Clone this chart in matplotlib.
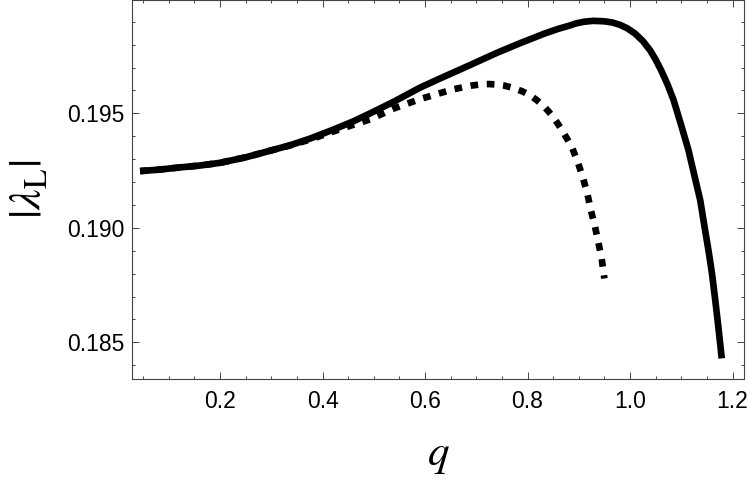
import matplotlib
matplotlib.use("Agg")
import matplotlib.pyplot as plt
from matplotlib.ticker import MultipleLocator, FormatStrFormatter

plt.rcParams['font.family'] = ['Liberation Sans', 'DejaVu Sans']
plt.rcParams['mathtext.fontset'] = 'stix'

# solid curve
q_solid = [0.044, 0.08, 0.122, 0.16, 0.200, 0.25, 0.298, 0.34, 0.376, 0.42,
           0.46, 0.493, 0.54, 0.590, 0.629, 0.688, 0.74, 0.785, 0.835, 0.86,
           0.883, 0.895, 0.91, 0.928, 0.95, 0.965, 0.98, 0.995, 1.01, 1.025,
           1.039, 1.05, 1.062, 1.074, 1.085, 1.10, 1.114, 1.126, 1.137, 1.145,
           1.153, 1.16, 1.166, 1.172, 1.179]
lam_solid = [0.19248, 0.19254, 0.19264, 0.19272, 0.19284, 0.19308, 0.19337,
             0.19363, 0.19390, 0.19428, 0.19465, 0.19500, 0.19552, 0.19612,
             0.19652, 0.19711, 0.19764, 0.19806, 0.19850, 0.19869, 0.19884,
             0.19893, 0.19900, 0.19904, 0.19902, 0.19897, 0.19887, 0.19871,
             0.19848, 0.19816, 0.19776, 0.19735, 0.19682, 0.19622, 0.19558,
             0.19447, 0.19340, 0.19225, 0.19121, 0.19010, 0.18903, 0.18800,
             0.18690, 0.18575, 0.18430]

# dotted curve
q_dot = [0.044, 0.08, 0.122, 0.16, 0.200, 0.25, 0.298, 0.34, 0.376, 0.42,
         0.46, 0.493, 0.54, 0.590, 0.629, 0.655, 0.69, 0.71, 0.725, 0.74,
         0.755, 0.772, 0.79, 0.805, 0.818, 0.830, 0.84, 0.850, 0.86, 0.869,
         0.878, 0.887, 0.8985, 0.908, 0.9166, 0.9233, 0.9317, 0.938, 0.9448,
         0.950]
lam_dot = [0.19248, 0.19254, 0.19264, 0.19272, 0.19284, 0.19308, 0.19337,
           0.19362, 0.19386, 0.19420, 0.19450, 0.19474, 0.19522, 0.19562,
           0.19588, 0.19605, 0.19621, 0.19627, 0.19628, 0.19626, 0.19621,
           0.19611, 0.19596, 0.19579, 0.19558, 0.19535, 0.19511, 0.19484,
           0.19452, 0.19420, 0.19386, 0.19350, 0.19285, 0.19219, 0.19152,
           0.19080, 0.19005, 0.18939, 0.18864, 0.18779]

fig = plt.figure(figsize=(7.5, 4.8), dpi=100)
ax = fig.add_axes([0.1756, 0.2104, 0.8168, 0.7896])

ax.plot(q_solid, lam_solid, color='black', lw=4.8, solid_capstyle='butt',
        solid_joinstyle='round')
ax.plot(q_dot, lam_dot, color='black', lw=4.8, linestyle=(0, (1.15, 1.3)),
        dash_capstyle='butt')

ax.set_xlim(0.0277, 1.223)
ax.set_ylim(0.18340, 0.19995)

ax.xaxis.set_major_locator(MultipleLocator(0.2))
ax.xaxis.set_minor_locator(MultipleLocator(0.05))
ax.yaxis.set_major_locator(MultipleLocator(0.005))
ax.yaxis.set_minor_locator(MultipleLocator(0.001))
ax.xaxis.set_major_formatter(FormatStrFormatter('%.1f'))
ax.yaxis.set_major_formatter(FormatStrFormatter('%.3f'))

for s in ax.spines.values():
    s.set_color('#444444')
    s.set_linewidth(0.8)
ax.tick_params(which='both', direction='in', top=True, right=True,
               color='#444444', width=0.7, labelsize=16.5)
ax.tick_params(which='major', length=4.8)
ax.tick_params(which='minor', length=2.4)
ax.tick_params(axis='x', which='major', pad=8)
ax.tick_params(axis='y', which='major', pad=5)

ax.set_xlabel(r'$q$', fontsize=31, va='baseline')
ax.xaxis.set_label_coords(0.5, -0.2256)
ax.set_ylabel(r'$|\lambda_{\mathrm{L}}|$', fontsize=33, va='center')
ax.yaxis.set_label_coords(-0.168, 0.5)

fig.savefig("out.png", dpi=100)
